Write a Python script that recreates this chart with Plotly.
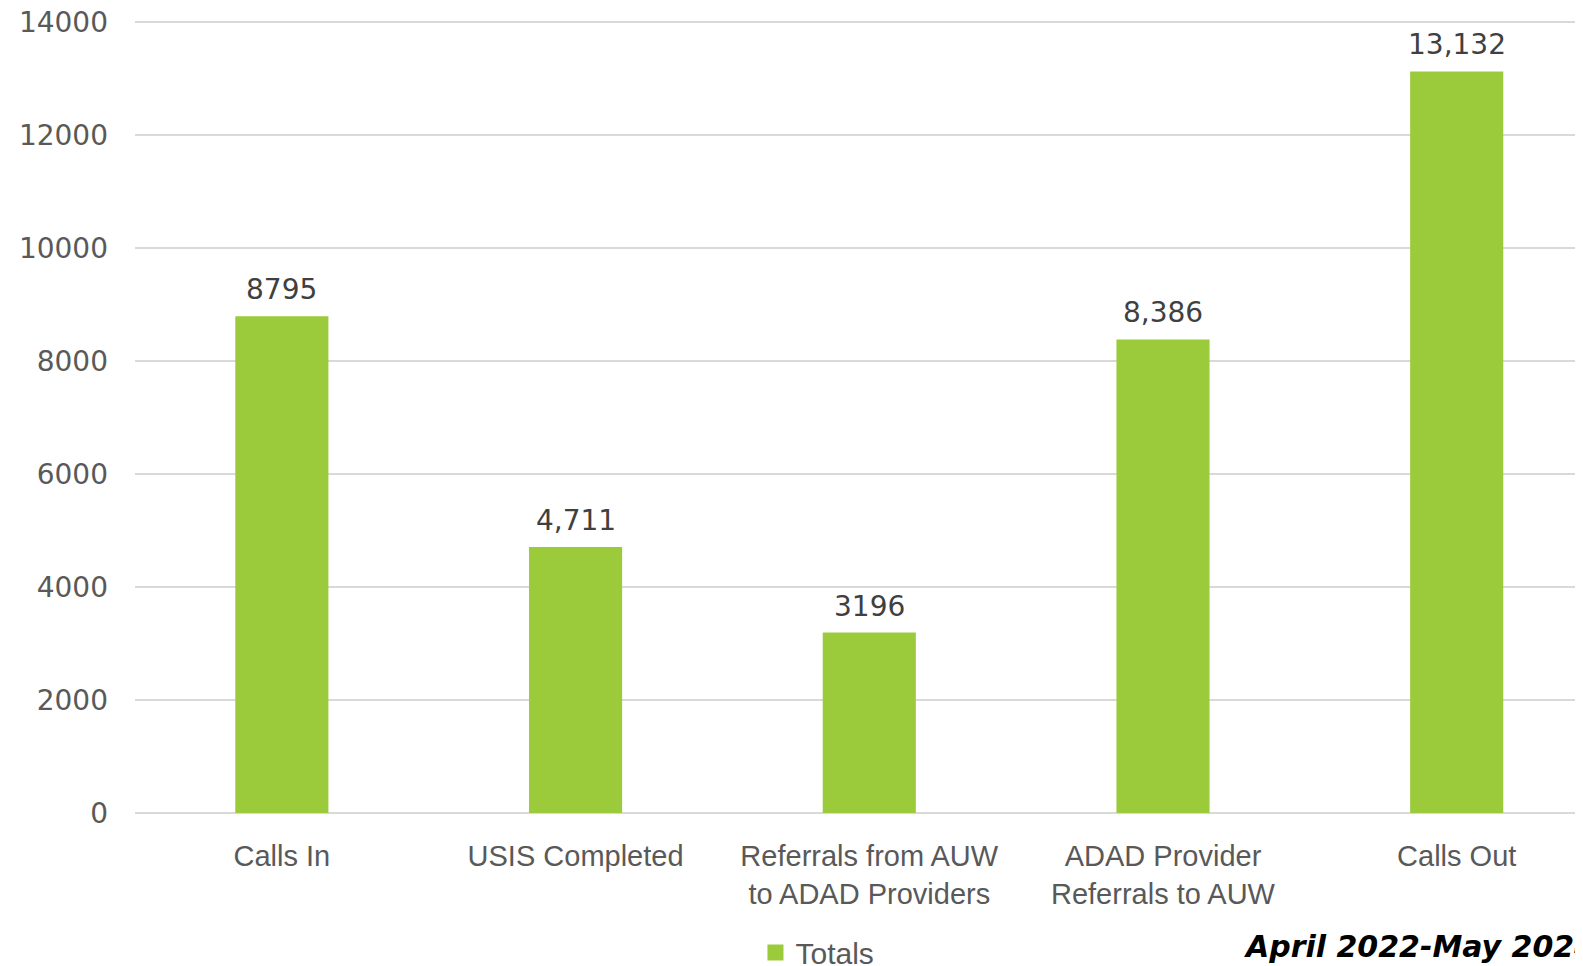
import plotly.graph_objects as go

categories = ["Calls In", "USIS Completed", "Referrals from AUW<br>to ADAD Providers",
              "ADAD Provider<br>Referrals to AUW", "Calls Out"]
totals = [8795, 4711, 3196, 8386, 13132]
value_labels = ["8795", "4,711", "3196", "8,386", "13,132"]
y_ticks = [0, 2000, 4000, 6000, 8000, 10000, 12000, 14000]
series_name = "Totals"
period_note = "April 2022-May 2024"

FONT = "Liberation Sans, Arial, sans-serif"
NUMFONT = "DejaVu Sans, sans-serif"
GREEN = "#9BCB3B"

fig = go.Figure()
fig.add_trace(go.Bar(
    x=categories, y=totals, name=series_name,
    marker=dict(color=GREEN, line=dict(width=0)),
    width=0.317, showlegend=False,
))
# legend entry with a larger square swatch
fig.add_trace(go.Scatter(
    x=[None], y=[None], mode="markers", name=series_name,
    marker=dict(symbol="square", size=16, color=GREEN), showlegend=True,
))

for c, v, lab in zip(categories, totals, value_labels):
    fig.add_annotation(x=c, y=v, text=lab, showarrow=False, xref="x", yref="y",
                       yanchor="bottom", yshift=8,
                       font=dict(family=NUMFONT, size=28, color="#404040"))

fig.add_annotation(x=0.7645, y=-0.168, xref="paper", yref="paper",
                   text="<b><i>" + period_note + "</i></b>",
                   showarrow=False, xanchor="left", yanchor="middle",
                   font=dict(family="DejaVu Sans, sans-serif", size=30, color="#000000"))

fig.update_layout(
    template="none",
    width=1575, height=958,
    margin=dict(l=127, r=0, t=13, b=153, autoexpand=False),
    paper_bgcolor="white", plot_bgcolor="white",
    font=dict(family=FONT, size=29, color="#595959"),
    bargap=0.683,
    showlegend=True,
    legend=dict(orientation="h", x=0.4285, xanchor="left", y=-0.176, yanchor="middle",
                font=dict(family=FONT, size=30, color="#595959"), bgcolor="rgba(0,0,0,0)"),
    xaxis=dict(range=[-0.5, 4.43], showgrid=False, showline=False, zeroline=False,
               automargin=False, ticks="", ticklabelstandoff=23,
               tickfont=dict(family=FONT, size=29, color="#595959"), fixedrange=True),
    yaxis=dict(range=[0, 14025], tickvals=y_ticks, ticktext=[str(t) for t in y_ticks],
               showgrid=True, gridcolor="#D9D9D9", gridwidth=1.5,
               zeroline=True, zerolinecolor="#D9D9D9", zerolinewidth=1.5,
               automargin=False, showline=False, ticks="", ticklabelstandoff=26,
               ticklabeloverflow="allow",
               tickfont=dict(family=NUMFONT, size=28, color="#595959")),
)

fig.write_html("out.html")
